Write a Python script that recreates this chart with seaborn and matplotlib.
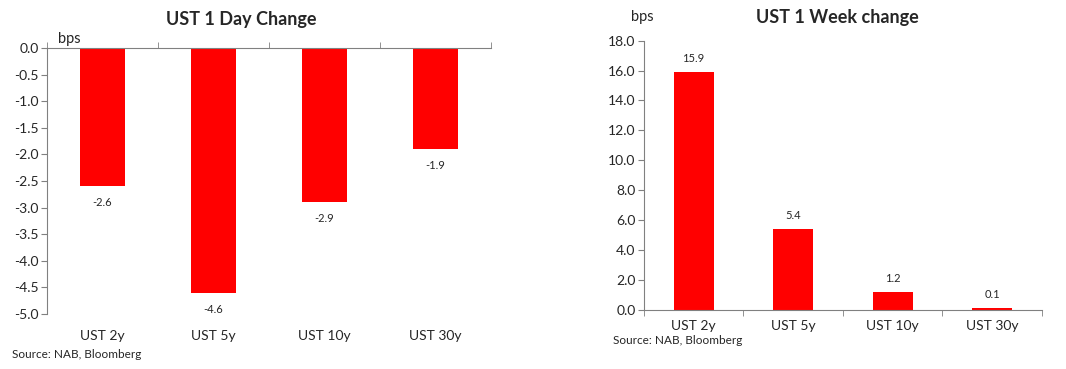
import matplotlib
matplotlib.use("Agg")
import matplotlib.pyplot as plt
import seaborn as sns
import pandas as pd
import numpy as np

categories = ["UST 2y", "UST 5y", "UST 10y", "UST 30y"]
day_change = [-2.6, -4.6, -2.9, -1.9]
week_change = [15.9, 5.4, 1.2, 0.1]
day_ticks = [0.0, -0.5, -1.0, -1.5, -2.0, -2.5, -3.0, -3.5, -4.0, -4.5, -5.0]
week_ticks = [0.0, 2.0, 4.0, 6.0, 8.0, 10.0, 12.0, 14.0, 16.0, 18.0]

sns.set_style("white")
plt.rcParams['font.family'] = ['Lato', 'DejaVu Sans']

RED = "#FF0000"
GREY = "#808080"

fig = plt.figure(figsize=(10.66, 3.69), dpi=100)
ax1 = fig.add_axes([0.0441, 0.149, 0.4165, 0.721])
ax2 = fig.add_axes([0.604, 0.160, 0.3735, 0.730])

df1 = pd.DataFrame({"cat": categories, "val": day_change})
df2 = pd.DataFrame({"cat": categories, "val": week_change})

sns.barplot(data=df1, x="cat", y="val", color=RED, saturation=1, width=0.4, ax=ax1)
sns.barplot(data=df2, x="cat", y="val", color=RED, saturation=1, width=0.4, ax=ax2)

for ax in (ax1, ax2):
    ax.set_xlabel("")
    ax.set_ylabel("")
    ax.set_xlim(-0.5, 3.5)
    for s in ax.spines.values():
        s.set_visible(False)
    ax.spines['left'].set_visible(True)
    ax.spines['left'].set_color(GREY)
    ax.spines['left'].set_linewidth(0.8)
    ax.tick_params(axis='y', which='major', left=True, length=4, color=GREY,
                   labelsize=10, pad=2)
    ax.tick_params(axis='x', which='major', bottom=False, top=False, labelsize=10)
    for b in ax.patches:
        b.set_edgecolor("none")

# Left chart
ax1.set_ylim(-5.0, 0.0)
ax1.set_yticks(day_ticks)
ax1.set_yticklabels([f"{t:.1f}" for t in day_ticks])
ax1.spines['top'].set_visible(True)
ax1.spines['top'].set_color(GREY)
ax1.spines['top'].set_linewidth(0.8)
ax1.set_xticks([-0.5, 0.5, 1.5, 2.5, 3.5], minor=True)
ax1.tick_params(axis='x', which='minor', top=True, bottom=False, length=4, color=GREY)
ax1.tick_params(axis='x', which='major', pad=8)
for i, v in enumerate(day_change):
    ax1.annotate(f"{v:.1f}", (i, v), xytext=(0, -12), textcoords="offset points",
                 ha="center", va="center", fontsize=8)

# Right chart
ax2.set_ylim(0.0, 18.0)
ax2.set_yticks(week_ticks)
ax2.set_yticklabels([f"{t:.1f}" for t in week_ticks])
ax2.spines['bottom'].set_visible(True)
ax2.spines['bottom'].set_color(GREY)
ax2.spines['bottom'].set_linewidth(0.8)
ax2.set_xticks([-0.5, 0.5, 1.5, 2.5, 3.5], minor=True)
ax2.tick_params(axis='x', which='minor', bottom=True, length=4, color=GREY)
ax2.tick_params(axis='x', which='major', pad=4)
for i, v in enumerate(week_change):
    ax2.annotate(f"{v:.1f}", (i, v), xytext=(0, 10), textcoords="offset points",
                 ha="center", va="center", fontsize=8)

fig.text(241/1066, 1 - 19/369, "UST 1 Day Change", ha="center", va="center",
         fontsize=13, fontweight="bold")
fig.text(58/1066, 1 - 39/369, "bps", ha="left", va="center", fontsize=10.5)
fig.text(12/1066, 1 - 355/369, "Source: NAB, Bloomberg", ha="left", va="center", fontsize=8.5)

fig.text(837/1066, 1 - 17/369, "UST 1 Week change", ha="center", va="center",
         fontsize=13, fontweight="bold")
fig.text(631/1066, 1 - 17/369, "bps", ha="left", va="center", fontsize=10.5)
fig.text(613/1066, 1 - 341/369, "Source: NAB, Bloomberg", ha="left", va="center", fontsize=8.5)

fig.savefig("out.png", dpi=100)
